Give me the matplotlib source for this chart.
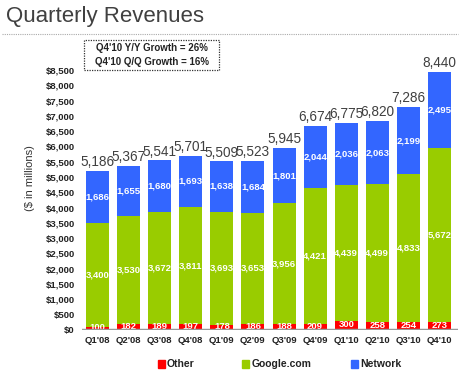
import numpy as np
import matplotlib.pyplot as plt
from matplotlib.patches import Rectangle
from matplotlib.lines import Line2D

quarters = ["Q1'08", "Q2'08", "Q3'08", "Q4'08", "Q1'09", "Q2'09",
            "Q3'09", "Q4'09", "Q1'10", "Q2'10", "Q3'10", "Q4'10"]
other = [100, 182, 189, 197, 178, 186, 188, 209, 300, 258, 254, 273]
google = [3400, 3530, 3672, 3811, 3693, 3653, 3956, 4421, 4439, 4499, 4833, 5672]
network = [1686, 1655, 1680, 1693, 1638, 1684, 1801, 2044, 2036, 2063, 2199, 2495]
totals = [5186, 5367, 5541, 5701, 5509, 5523, 5945, 6674, 6775, 6820, 7286, 8440]

c_other = '#ff0000'
c_google = '#99cc00'
c_net = '#3366ff'

plt.rcParams['font.family'] = ['Liberation Sans', 'DejaVu Sans']

fig = plt.figure(figsize=(4.6, 3.72), dpi=100)
ax = fig.add_axes([0.178, 0.113, 0.818, 0.699])

x = np.arange(len(quarters))
o = np.array(other)
g = np.array(google)
n = np.array(network)
w = 0.74
ax.bar(x, o, w, color=c_other)
ax.bar(x, g, w, bottom=o, color=c_google)
ax.bar(x, n, w, bottom=o + g, color=c_net)

for i in range(len(x)):
    ax.text(x[i], o[i] / 2 + 20, f"{other[i]:,}", ha='center', va='center',
            color='white', fontsize=6.8, fontweight='bold')
    ax.text(x[i], o[i] + g[i] / 2, f"{google[i]:,}", ha='center', va='center',
            color='white', fontsize=6.8, fontweight='bold')
    ax.text(x[i], o[i] + g[i] + n[i] / 2, f"{network[i]:,}", ha='center', va='center',
            color='white', fontsize=6.8, fontweight='bold')
    ax.text(x[i], totals[i] + 60, f"{totals[i]:,}", ha='center', va='bottom',
            color='#404040', fontsize=9.8)

ax.set_xlim(-0.5, 11.6)
ax.set_ylim(0, 8500)
ax.set_yticks(np.arange(0, 8501, 500))
ax.set_yticklabels([f"${v:,}" for v in range(0, 8501, 500)])
ax.set_xticks(x)
ax.set_xticklabels(quarters)
ax.tick_params(length=0, labelsize=6.8, colors='#222222')
ax.tick_params(axis='x', pad=4)
ax.tick_params(axis='y', pad=5)
for lab in ax.get_xticklabels() + ax.get_yticklabels():
    lab.set_fontweight('bold')
for s in ax.spines.values():
    s.set_visible(False)
ax.axhline(0, color='#999999', lw=2.5, zorder=5)

fig.text(0.065, 0.52, '($ in millions)', rotation=90, ha='center', va='center',
         fontsize=8, color='#333333')

# title and dotted rule
fig.text(0.012, 0.955, 'Quarterly Revenues', fontsize=16, color='#404040',
         ha='left', va='center')
fig.add_artist(Line2D([0.005, 0.995], [0.908, 0.908], transform=fig.transFigure,
                      color='#aaaaaa', lw=0.8, ls=(0, (1, 1))))

# growth box
fig.add_artist(Rectangle((0.182, 0.812), 0.295, 0.08, transform=fig.transFigure,
                         fill=False, ec='#333333', lw=0.9, ls=(0, (1, 1))))
fig.text(0.33, 0.872, "Q4'10 Y/Y Growth = 26%", ha='center', va='center',
         fontsize=7, fontweight='bold', color='#222222')
fig.text(0.33, 0.834, "Q4'10 Q/Q Growth = 16%", ha='center', va='center',
         fontsize=7, fontweight='bold', color='#222222')

# legend
legend_items = [('Other', c_other, 0.343), ('Google.com', c_google, 0.526),
                ('Network', c_net, 0.763)]
for name, col, lx in legend_items:
    fig.add_artist(Rectangle((lx, 0.012), 0.015, 0.019, transform=fig.transFigure,
                             color=col))
    fig.text(lx + 0.02, 0.022, name, ha='left', va='center', fontsize=7.5,
             fontweight='bold', color='#222222')

fig.savefig('out.png', dpi=100)
